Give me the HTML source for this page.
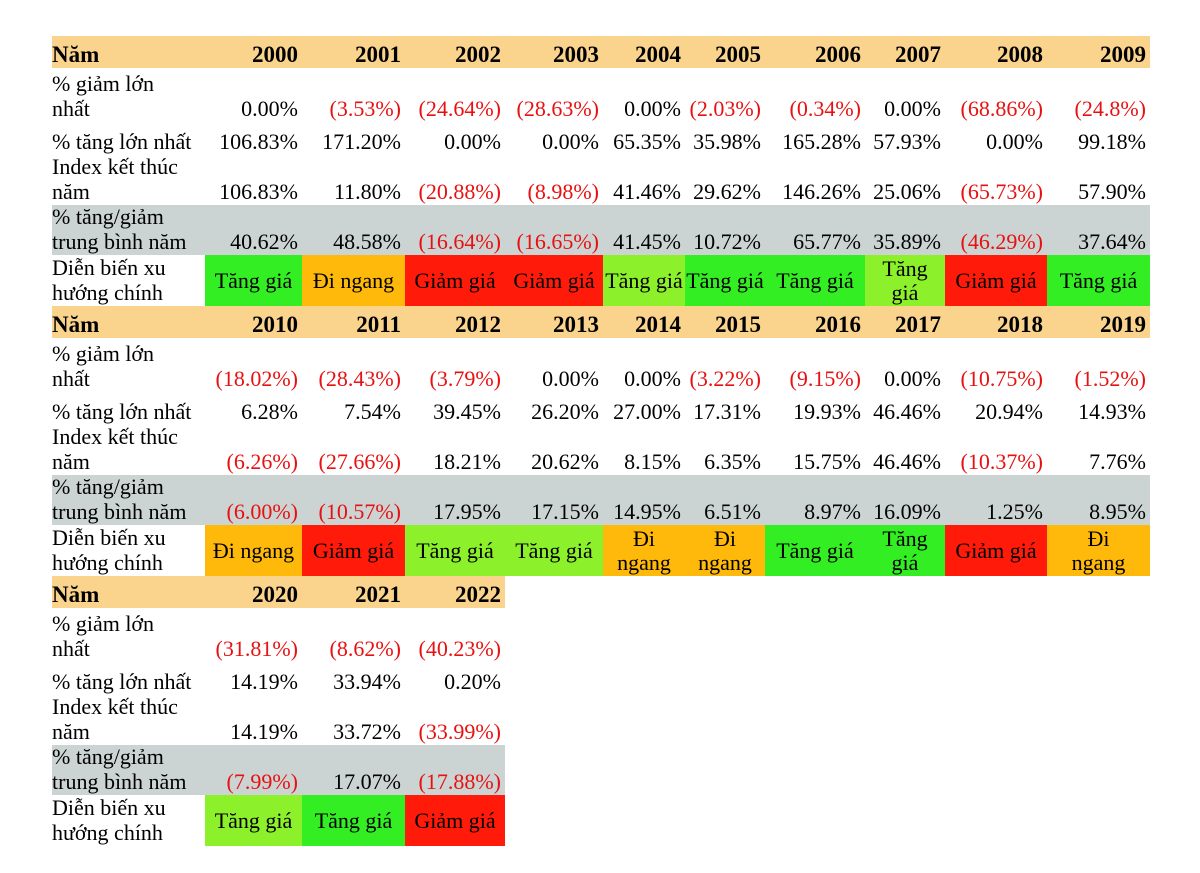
<!DOCTYPE html>
<html><head><meta charset="utf-8"><style>
body{margin:0;background:#fff;width:1200px;height:873px;overflow:hidden;font-family:"Liberation Serif","DejaVu Serif",serif;font-size:22px;color:#000;position:relative}
.s{position:absolute}
.grid{position:absolute;left:52px;display:grid;grid-template-columns:153px 97px 103px 100px 98px 82px 80px 100px 80px 102px 103px;grid-template-rows:32px 54px 33px 50px 50px 51px}
.grid>div{display:flex;align-items:flex-end;justify-content:flex-end;padding:0 4px 1px 0;line-height:25px;white-space:nowrap;overflow:hidden}
.grid>div.l{justify-content:flex-start;padding-left:0;white-space:normal}
.b{font-weight:bold;font-size:23px}
.r{color:#e81010}
.grid>div.c{justify-content:center;align-items:center;text-align:center;padding:0;line-height:24px}
.G{background:#33ee22}.L{background:#8cf02a}.O{background:#ffb90a}.R{background:#ff1a0a}
.hd{background:#fad38c}.gr{background:#ccd3d3}
</style></head><body>
<div class="s hd" style="left:52px;top:36px;width:1098px;height:32px"></div>
<div class="s gr" style="left:52px;top:205px;width:1098px;height:50px"></div>
<div class="s hd" style="left:52px;top:306px;width:1098px;height:32px"></div>
<div class="s gr" style="left:52px;top:475px;width:1098px;height:50px"></div>
<div class="s hd" style="left:52px;top:576px;width:453px;height:32px"></div>
<div class="s gr" style="left:52px;top:745px;width:453px;height:50px"></div>

<div class="grid" style="top:36px">
<div class="l b">Năm</div><div class="b">2000</div><div class="b">2001</div><div class="b">2002</div><div class="b">2003</div><div class="b">2004</div><div class="b">2005</div><div class="b">2006</div><div class="b">2007</div><div class="b">2008</div><div class="b">2009</div>
<div class="l">% giảm lớn<br>nhất</div><div>0.00%</div><div class="r">(3.53%)</div><div class="r">(24.64%)</div><div class="r">(28.63%)</div><div>0.00%</div><div class="r">(2.03%)</div><div class="r">(0.34%)</div><div>0.00%</div><div class="r">(68.86%)</div><div class="r">(24.8%)</div>
<div class="l">% tăng lớn nhất</div><div>106.83%</div><div>171.20%</div><div>0.00%</div><div>0.00%</div><div>65.35%</div><div>35.98%</div><div>165.28%</div><div>57.93%</div><div>0.00%</div><div>99.18%</div>
<div class="l">Index kết thúc<br>năm</div><div>106.83%</div><div>11.80%</div><div class="r">(20.88%)</div><div class="r">(8.98%)</div><div>41.46%</div><div>29.62%</div><div>146.26%</div><div>25.06%</div><div class="r">(65.73%)</div><div>57.90%</div>
<div class="l">% tăng/giảm<br>trung bình năm</div><div>40.62%</div><div>48.58%</div><div class="r">(16.64%)</div><div class="r">(16.65%)</div><div>41.45%</div><div>10.72%</div><div>65.77%</div><div>35.89%</div><div class="r">(46.29%)</div><div>37.64%</div>
<div class="l">Diễn biến xu<br>hướng chính</div><div class="c G">Tăng giá</div><div class="c O">Đi ngang</div><div class="c R">Giảm giá</div><div class="c R">Giảm giá</div><div class="c L">Tăng giá</div><div class="c G">Tăng giá</div><div class="c G">Tăng giá</div><div class="c L">Tăng<br>giá</div><div class="c R">Giảm giá</div><div class="c G">Tăng giá</div>
</div>

<div class="grid" style="top:306px">
<div class="l b">Năm</div><div class="b">2010</div><div class="b">2011</div><div class="b">2012</div><div class="b">2013</div><div class="b">2014</div><div class="b">2015</div><div class="b">2016</div><div class="b">2017</div><div class="b">2018</div><div class="b">2019</div>
<div class="l">% giảm lớn<br>nhất</div><div class="r">(18.02%)</div><div class="r">(28.43%)</div><div class="r">(3.79%)</div><div>0.00%</div><div>0.00%</div><div class="r">(3.22%)</div><div class="r">(9.15%)</div><div>0.00%</div><div class="r">(10.75%)</div><div class="r">(1.52%)</div>
<div class="l">% tăng lớn nhất</div><div>6.28%</div><div>7.54%</div><div>39.45%</div><div>26.20%</div><div>27.00%</div><div>17.31%</div><div>19.93%</div><div>46.46%</div><div>20.94%</div><div>14.93%</div>
<div class="l">Index kết thúc<br>năm</div><div class="r">(6.26%)</div><div class="r">(27.66%)</div><div>18.21%</div><div>20.62%</div><div>8.15%</div><div>6.35%</div><div>15.75%</div><div>46.46%</div><div class="r">(10.37%)</div><div>7.76%</div>
<div class="l">% tăng/giảm<br>trung bình năm</div><div class="r">(6.00%)</div><div class="r">(10.57%)</div><div>17.95%</div><div>17.15%</div><div>14.95%</div><div>6.51%</div><div>8.97%</div><div>16.09%</div><div>1.25%</div><div>8.95%</div>
<div class="l">Diễn biến xu<br>hướng chính</div><div class="c O">Đi ngang</div><div class="c R">Giảm giá</div><div class="c L">Tăng giá</div><div class="c L">Tăng giá</div><div class="c O">Đi<br>ngang</div><div class="c O">Đi<br>ngang</div><div class="c G">Tăng giá</div><div class="c G">Tăng<br>giá</div><div class="c R">Giảm giá</div><div class="c O">Đi<br>ngang</div>
</div>

<div class="grid" style="top:576px">
<div class="l b">Năm</div><div class="b">2020</div><div class="b">2021</div><div class="b">2022</div><div></div><div></div><div></div><div></div><div></div><div></div><div></div>
<div class="l">% giảm lớn<br>nhất</div><div class="r">(31.81%)</div><div class="r">(8.62%)</div><div class="r">(40.23%)</div><div></div><div></div><div></div><div></div><div></div><div></div><div></div>
<div class="l">% tăng lớn nhất</div><div>14.19%</div><div>33.94%</div><div>0.20%</div><div></div><div></div><div></div><div></div><div></div><div></div><div></div>
<div class="l">Index kết thúc<br>năm</div><div>14.19%</div><div>33.72%</div><div class="r">(33.99%)</div><div></div><div></div><div></div><div></div><div></div><div></div><div></div>
<div class="l">% tăng/giảm<br>trung bình năm</div><div class="r">(7.99%)</div><div>17.07%</div><div class="r">(17.88%)</div><div></div><div></div><div></div><div></div><div></div><div></div><div></div>
<div class="l">Diễn biến xu<br>hướng chính</div><div class="c L">Tăng giá</div><div class="c G">Tăng giá</div><div class="c R">Giảm giá</div>
</div>
</body></html>
